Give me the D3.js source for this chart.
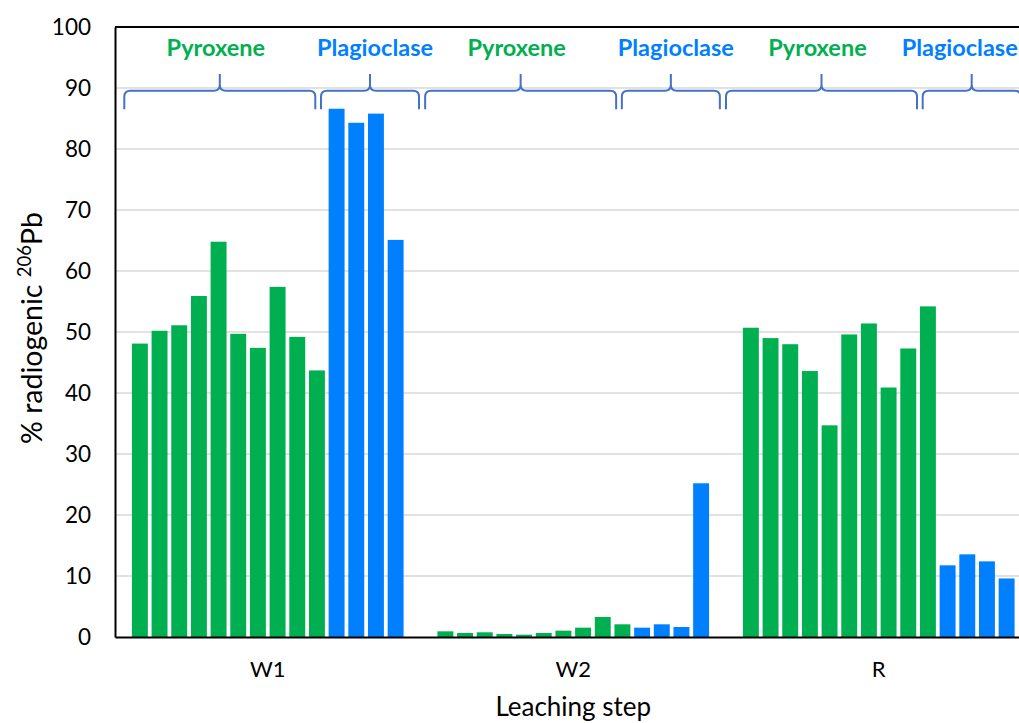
<!DOCTYPE html>
<html>
<head>
<meta charset="utf-8">
<script src="https://cdn.jsdelivr.net/npm/d3@7"></script>
<style>
  html, body { margin: 0; padding: 0; background: #fff; overflow: hidden; }
  svg { display: block; font-family: Lato, "Open Sans", sans-serif; }
</style>
</head>
<body>
<svg id="chart" width="1019" height="723"></svg>
<script>
// Leaching steps (x categories)
const categories = ["W1", "W2", "R"];

// % radiogenic 206Pb for each leached fraction
const pyroxeneW1 = [48.1, 50.2, 51.1, 55.9, 64.8, 49.7, 47.4, 57.4, 49.2, 43.7];
const plagioclaseW1 = [86.6, 84.3, 85.8, 65.1];
const pyroxeneW2 = [0.93, 0.66, 0.77, 0.49, 0.38, 0.66, 1.04, 1.53, 3.28, 2.08];
const plagioclaseW2 = [1.53, 2.08, 1.64, 25.2];
const pyroxeneR = [50.7, 49.0, 48.0, 43.6, 34.7, 49.6, 51.4, 40.9, 47.3, 54.2];
const plagioclaseR = [11.75, 13.55, 12.4, 9.6];

const yTicks = [0, 10, 20, 30, 40, 50, 60, 70, 80, 90, 100];
const mineralNames = ["Pyroxene", "Plagioclase"];

const colors = { Pyroxene: "#00B050", Plagioclase: "#0080FF" };

// Flatten into one record per bar
const groups = {
  W1: [pyroxeneW1, plagioclaseW1],
  W2: [pyroxeneW2, plagioclaseW2],
  R: [pyroxeneR, plagioclaseR]
};
const bars = [];
categories.forEach(cat => {
  const [px, pl] = groups[cat];
  px.forEach(v => bars.push({ cat, mineral: "Pyroxene", value: v }));
  pl.forEach(v => bars.push({ cat, mineral: "Plagioclase", value: v }));
});
categories.forEach(cat => {
  bars.filter(b => b.cat === cat).forEach((b, i) => { b.idx = i; });
});
const perGroup = pyroxeneW1.length + plagioclaseW1.length;

// Layout
const plotLeft = 115, plotTop = 27, plotBottom = 637;
const bandWidth = 305.5;

const svg = d3.select("#chart");

const x0 = d3.scaleBand()
  .domain(categories)
  .range([plotLeft, plotLeft + bandWidth * categories.length]);

const x1 = d3.scaleBand()
  .domain(d3.range(perGroup))
  .range([0, x0.bandwidth()])
  .paddingInner(0.19)
  .paddingOuter(0.86);

const y = d3.scaleLinear().domain([0, 100]).range([plotBottom, plotTop]);

// Gridlines
svg.append("g")
  .selectAll("line")
  .data(yTicks.filter(t => t > 0 && t < 100))
  .join("line")
  .attr("x1", plotLeft)
  .attr("x2", 1040)
  .attr("y1", d => y(d))
  .attr("y2", d => y(d))
  .attr("stroke", "#d9d9d9")
  .attr("stroke-width", 1.5);

// Bars
svg.append("g")
  .selectAll("rect")
  .data(bars)
  .join("rect")
  .attr("x", d => x0(d.cat) + x1(d.idx))
  .attr("width", x1.bandwidth())
  .attr("y", d => y(d.value))
  .attr("height", d => y(0) - y(d.value))
  .attr("fill", d => colors[d.mineral]);

// Plot frame: top border, left axis line, bottom axis line
svg.append("line")
  .attr("x1", plotLeft).attr("x2", 1040)
  .attr("y1", y(100)).attr("y2", y(100))
  .attr("stroke", "#000").attr("stroke-width", 2);

const yAxis = d3.axisLeft(y).tickValues(yTicks).tickSize(0).tickPadding(24);
const gy = svg.append("g").attr("transform", `translate(${plotLeft},0)`).call(yAxis);
gy.select(".domain").attr("stroke", "#000").attr("stroke-width", 2);
gy.selectAll("text")
  .attr("font-family", "Lato, 'Open Sans', sans-serif")
  .attr("font-size", 22.5)
  .attr("fill", "#000");

const xAxis = d3.axisBottom(x0).tickSize(0).tickPadding(24);
const gx = svg.append("g").attr("transform", `translate(0,${plotBottom})`).call(xAxis);
gx.select(".domain").attr("stroke", "#000").attr("stroke-width", 2);
gx.selectAll("text")
  .attr("font-family", "Lato, 'Open Sans', sans-serif")
  .attr("font-size", 22)
  .attr("fill", "#000");

// Axis titles
svg.append("text")
  .attr("x", x0("W2") + x0.bandwidth() / 2)
  .attr("y", 716)
  .attr("text-anchor", "middle")
  .attr("font-size", 26)
  .attr("fill", "#000")
  .text("Leaching step");

const yTitle = svg.append("text")
  .attr("transform", "translate(42,328) rotate(-90)")
  .attr("text-anchor", "middle")
  .attr("font-size", 28.5)
  .attr("fill", "#000");
yTitle.append("tspan").text("% radiogenic ");
yTitle.append("tspan").attr("font-size", 18.5).attr("dy", -11).text("206");
yTitle.append("tspan").attr("dy", 11).text("Pb");

// Mineral braces above each group of fractions
const braceStep = 300.85;
const braceSpans = {
  Pyroxene: { start: 124.3, width: 191, labelShift: -4 },
  Plagioclase: { start: 321, width: 98, labelShift: 5 }
};
const braceYBar = 90.7, braceYEnd = 109.3, braceYTip = 74, r = 6;

function bracePath(xa, xb) {
  const xt = (xa + xb) / 2;
  return `M${xa},${braceYEnd} L${xa},${braceYBar + r} Q${xa},${braceYBar} ${xa + r},${braceYBar}` +
    ` L${xt - r},${braceYBar} Q${xt},${braceYBar} ${xt},${braceYBar - r} L${xt},${braceYTip}` +
    ` M${xt},${braceYBar - r} Q${xt},${braceYBar} ${xt + r},${braceYBar}` +
    ` L${xb - r},${braceYBar} Q${xb},${braceYBar} ${xb},${braceYBar + r} L${xb},${braceYEnd}`;
}

const braces = [];
categories.forEach((cat, i) => {
  mineralNames.forEach(m => {
    const s = braceSpans[m];
    const xa = s.start + i * braceStep;
    const xb = xa + s.width;
    braces.push({ mineral: m, xa, xb, tip: (xa + xb) / 2, shift: s.labelShift });
  });
});
// keep the last label inside the visible area
braces[braces.length - 1].shift = -12;

const gb = svg.append("g");
gb.selectAll("path")
  .data(braces)
  .join("path")
  .attr("d", d => bracePath(d.xa, d.xb))
  .attr("fill", "none")
  .attr("stroke", "#4472C4")
  .attr("stroke-width", 2);

gb.selectAll("text")
  .data(braces)
  .join("text")
  .attr("x", d => d.tip + d.shift)
  .attr("y", 56)
  .attr("text-anchor", "middle")
  .attr("font-size", 23.5)
  .attr("font-weight", "bold")
  .attr("fill", d => colors[d.mineral])
  .text(d => d.mineral);
</script>
</body>
</html>
